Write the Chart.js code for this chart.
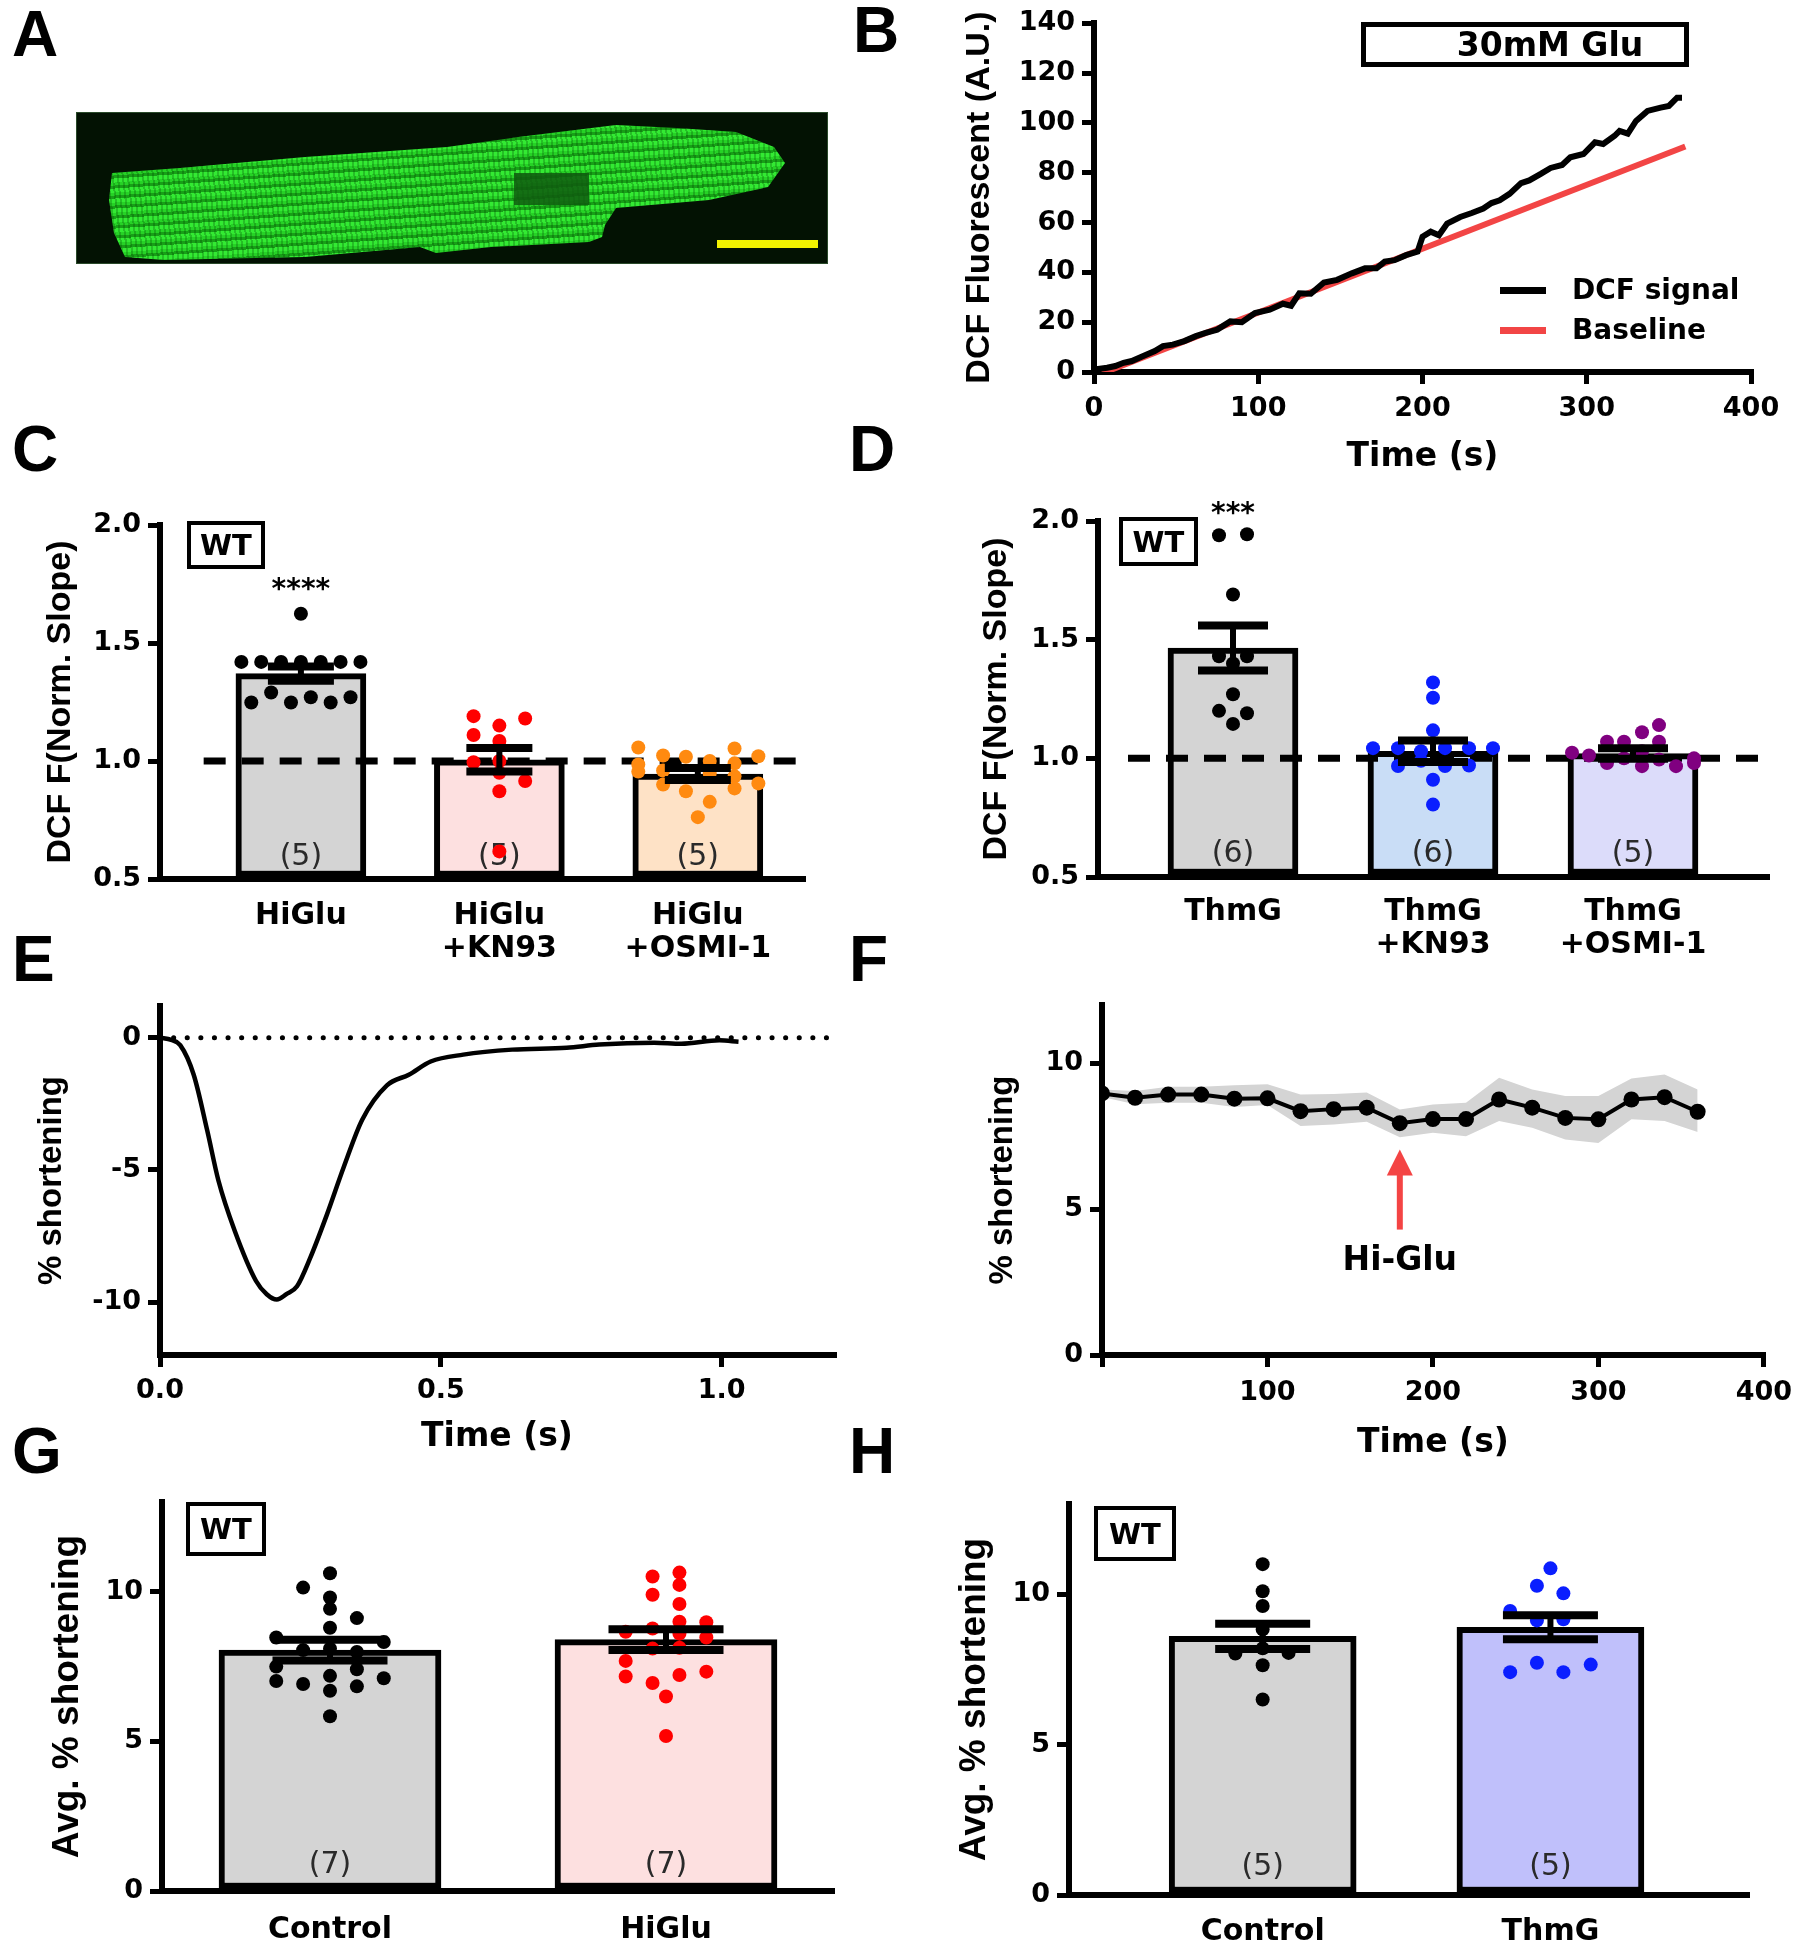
<!DOCTYPE html>
<html>
<head>
<meta charset="utf-8">
<script src="https://cdn.jsdelivr.net/npm/chart.js@4.4.1/dist/chart.umd.min.js"></script>
<style>
  body { margin: 0; background: #fff; width: 1803px; height: 1950px; position: relative; overflow: hidden;
         font-family: "DejaVu Sans", sans-serif; }
  canvas { position: absolute; }
  .lt { position: absolute; font-family: "Liberation Sans", Arial, sans-serif; font-weight: bold; font-size: 64px; line-height: 64px; }
  .wt { position: absolute; border: 4px solid #000; box-sizing: border-box; font-weight: bold; font-size: 29px;
        display: flex; align-items: center; justify-content: center; }
  .leg { position: absolute; font-weight: bold; font-size: 28px; line-height: 32px; }
  .sw { position: absolute; width: 46px; height: 7px; }
</style>
</head>
<body>

<!-- panel letters -->
<div class="lt" style="left:12px;top:2px">A</div>
<div class="lt" style="left:853px;top:-2px">B</div>
<div class="lt" style="left:12px;top:417px">C</div>
<div class="lt" style="left:849px;top:417px">D</div>
<div class="lt" style="left:12px;top:927px">E</div>
<div class="lt" style="left:849px;top:927px">F</div>
<div class="lt" style="left:12px;top:1419px">G</div>
<div class="lt" style="left:849px;top:1419px">H</div>

<!-- A : micrograph -->
<div style="position:absolute;left:77px;top:113px;width:750px;height:150px;background:#031203;overflow:hidden;box-shadow:0 0 0 1px #2a4a2a">
  <div style="position:absolute;left:0;top:0;width:750px;height:150px;
    clip-path:polygon(35px 60px,103px 55px,228px 44px,370px 34px,441px 24px,539px 12px,600px 15px,659px 19px,697px 34px,708px 50px,691px 74px,632px 87px,539px 95px,528px 112px,525px 124px,512px 129px,414px 134px,359px 140px,343px 134px,228px 144px,87px 147px,48px 144px,37px 120px,32px 87px);
    background:
      repeating-linear-gradient(83deg,rgba(0,60,0,.25) 0 2px,rgba(0,0,0,0) 2px 5px),
      repeating-linear-gradient(-4deg,#33ea33 0 4px,#17a017 4px 7px,#26d226 7px 10px)"></div>
  <div style="position:absolute;left:437px;top:60px;width:75px;height:32px;background:#0f5a0f;opacity:.85"></div>
  <div style="position:absolute;left:640px;top:127px;width:101px;height:8px;background:#f2f200"></div>
</div>

<!-- B -->
<canvas id="cB" width="863" height="480" style="left:940px;top:0px"></canvas>
<div style="position:absolute;left:1361px;top:22px;width:328px;height:45px;border:5px solid #000;box-sizing:border-box;
     font-weight:bold;font-size:33px;display:flex;align-items:center;justify-content:center;padding-left:50px">30mM Glu</div>
<div id="legB"></div>

<!-- C..H -->
<canvas id="cC" width="850" height="560" style="left:0px;top:420px"></canvas>
<canvas id="cD" width="953" height="560" style="left:850px;top:420px"></canvas>
<canvas id="cE" width="850" height="510" style="left:0px;top:960px"></canvas>
<canvas id="cF" width="953" height="510" style="left:850px;top:960px"></canvas>
<canvas id="cG" width="850" height="510" style="left:0px;top:1440px"></canvas>
<canvas id="cH" width="953" height="510" style="left:850px;top:1440px"></canvas>

<div class="wt" style="left:187px;top:521px;width:78px;height:48px">WT</div>
<div class="wt" style="left:1119px;top:517px;width:79px;height:49px">WT</div>
<div class="wt" style="left:186px;top:1502px;width:80px;height:54px">WT</div>
<div class="wt" style="left:1094px;top:1506px;width:82px;height:55px">WT</div>

<script>
// ---------------- data ----------------
// B : DCF fluorescence trace
const bTime   = [0,8,13,18,23,30,37,42,48,55,62,68,75,83,90,98,107,115,120,125,132,140,148,157,165,172,177,183,190,197,200,205,210,215,223,230,237,242,247,253,260,265,272,278,285,290,298,305,310,317,320,325,330,337,345,350,355,358];
const bSignal = [1,1.7,2.4,3.7,4.4,6.4,8.4,10.4,11,12.4,14.4,15.7,17,20.3,20,23.7,25,27.4,26.6,31.6,31.4,35.9,37,39.6,41.6,41.6,44.3,44.9,46.9,48.3,54.3,56.3,54.9,59.6,62.2,63.8,65.6,67.8,68.9,71.5,75.8,76.9,79.5,81.9,83.1,86.2,87.5,92.2,91.5,94.8,96.8,95.7,100.8,104.8,106.1,106.8,110.1,110.1];
const bBaseTime = [5, 360];
const bBaseVal  = [-0.5, 90.5];
const bNames  = ['DCF signal', 'Baseline'];
const bColors = ['#000000', '#f24545'];

// C : HiGlu groups
const cCats  = [['HiGlu'], ['HiGlu', '+KN93'], ['HiGlu', '+OSMI-1']];
const cMean  = [1.37, 1.005, 0.945];
const cSem   = [0.03, 0.05, 0.025];
const cN     = ['(5)', '(5)', '(5)'];
const cStars = ['****', '', ''];
const cStarY = 1.72;
const cHiVal = [1.624,1.42,1.42,1.42,1.42,1.42,1.42,1.42,1.248,1.29,1.248,1.27,1.248,1.27];
const cHiJit = [0,-0.30,-0.20,-0.10,0,0.10,0.20,0.30,-0.25,-0.15,-0.05,0.05,0.15,0.25];
const cKnVal = [1.19,1.18,1.15,1.11,1.085,0.995,1.0,0.95,0.915,0.872,0.617];
const cKnJit = [-0.13,0.13,0,-0.13,0,-0.13,0,0,0.13,0,0];
const cOsVal = [1.057,1.023,1.018,1.0,1.053,1.02,0.985,0.955,0.96,0.947,0.99,0.935,0.90,0.872,0.827,0.884,0.905,0.762];
const cOsJit = [-0.30,-0.175,-0.06,0.06,0.185,0.305,-0.30,-0.30,-0.175,0.06,0.185,0.185,-0.175,-0.06,0.06,0.185,0.305,0];

// D : ThmG groups
const dCats  = [['ThmG'], ['ThmG', '+KN93'], ['ThmG', '+OSMI-1']];
const dMean  = [1.465, 1.03, 1.02];
const dSem   = [0.095, 0.045, 0.022];
const dN     = ['(6)', '(6)', '(5)'];
const dStars = ['***', '', ''];
const dStarY = 2.025;
const dThVal = [1.94,1.944,1.69,1.43,1.43,1.40,1.27,1.20,1.19,1.145];
const dThJit = [-0.07,0.07,0,-0.07,0.07,0,0,-0.07,0.07,0];
const dKnVal = [1.32,1.255,1.118,1.043,1.043,1.03,1.043,1.043,1.043,0.968,0.99,0.968,0.97,0.91,0.805];
const dKnJit = [0,0,0,-0.30,-0.175,-0.06,0.06,0.18,0.30,-0.175,-0.06,0.06,0.18,0,0];
const dOsVal = [1.14,1.11,1.07,1.07,1.07,1.024,1.012,0.98,1.0,0.967,0.995,0.967,0.98,1.03,1.0];
const dOsJit = [0.13,0.045,-0.13,-0.045,0.13,-0.305,-0.22,-0.13,-0.045,0.045,0.13,0.215,0.305,0.045,0.305];

// E : single twitch
const eTime  = [0,0.02,0.036,0.06,0.084,0.104,0.133,0.171,0.19,0.208,0.225,0.244,0.268,0.297,0.327,0.36,0.404,0.443,0.482,0.54,0.627,0.724,0.782,0.88,0.928,0.996,1.03];
const eShort = [0,-0.08,-0.28,-1.4,-3.5,-5.4,-7.3,-9.2,-9.7,-9.9,-9.7,-9.4,-8.3,-6.7,-4.9,-3.1,-1.8,-1.4,-0.9,-0.64,-0.45,-0.38,-0.26,-0.19,-0.23,-0.1,-0.15];

// F : shortening over time
const fTime  = [0,20,40,60,80,100,120,140,160,180,200,220,240,260,280,300,320,340,360];
const fMean  = [8.97,8.82,8.93,8.93,8.79,8.80,8.36,8.43,8.48,7.95,8.09,8.09,8.76,8.48,8.13,8.08,8.76,8.84,8.34];
const fUpper = [9.1,9.05,9.2,9.2,9.25,9.28,8.93,8.95,9.0,8.42,8.59,8.65,9.51,9.1,8.88,8.88,9.48,9.62,9.1];
const fLower = [8.85,8.6,8.65,8.65,8.5,8.57,7.85,7.9,8.0,7.47,7.62,7.5,8.02,7.79,7.39,7.27,8.08,8.02,7.65];
const fArrow = {x: 180, from: 4.3, to: 7.05, label: 'Hi-Glu', labelY: 3.2};

// G : Control vs HiGlu
const gCats  = ['Control', 'HiGlu'];
const gMean  = [8.05, 8.4];
const gSem   = [0.35, 0.35];
const gN     = ['(7)', '(7)'];
const gCtVal = [10.62,10.14,9.81,9.43,9.12,8.8,8.47,8.32,8.05,7.99,7.5,7.41,7.19,7.02,7.11,6.92,6.84,6.69,5.84,8.1];
const gCtJit = [0,-0.08,0,0,0.08,0,-0.16,0.16,-0.08,0.08,-0.16,0.08,0,-0.16,0.16,-0.08,0.08,0,0,0];
const gHiVal = [10.51,10.64,10.23,9.9,9.59,9.0,8.98,8.77,8.66,8.6,8.47,8.1,8.13,7.69,7.17,7.22,7.33,6.95,6.5,5.18];
const gHiJit = [-0.04,0.04,0.04,-0.04,0.04,0.04,0.12,-0.04,-0.12,0.04,0.12,-0.04,0.04,-0.12,-0.12,0.04,0.12,-0.04,0,0];

// H : Control vs ThmG
const hCats  = ['Control', 'ThmG'];
const hMean  = [8.6, 8.9];
const hSem   = [0.42, 0.4];
const hN     = ['(5)', '(5)'];
const hCtVal = [11.0,10.1,9.61,8.83,8.03,8.05,8.2,7.64,6.5];
const hCtJit = [0,0,0,0,-0.095,0.09,0,0,0];
const hThVal = [10.86,10.28,10.03,9.44,9.13,9.17,7.41,7.72,7.41,7.66];
const hThJit = [0,-0.047,0.045,-0.14,-0.047,0.045,-0.14,-0.047,0.045,0.14];

// ---------------- helpers ----------------
const FONT = '"DejaVu Sans", sans-serif';

// vertical titles: narrow face if it is there, otherwise plain Liberation a bit smaller
function hasFont(name) {
    const c = document.createElement('canvas').getContext('2d');
    c.font = '40px monospace';
    const w0 = c.measureText('abcdefghij WMil').width;
    c.font = '40px "' + name + '", monospace';
    return c.measureText('abcdefghij WMil').width !== w0;
}
const NARROW = hasFont('Liberation Sans Narrow');
const VFONT = NARROW ? '"Liberation Sans Narrow", "Liberation Sans", sans-serif' : '"Liberation Sans", Arial, sans-serif';
const VK = NARROW ? 1 : 0.82;

Chart.defaults.font.family = FONT;
Chart.defaults.font.weight = 'bold';
Chart.defaults.color = '#000';
Chart.defaults.animation = false;
Chart.defaults.plugins.legend.display = false;
Chart.defaults.plugins.tooltip.enabled = false;

const pts = (xs, ys) => xs.map((x, i) => ({x: x, y: ys[i]}));
const jit = (cat, vals, offs) => vals.map((v, i) => ({x: cat + offs[i], y: v}));

// error bars, n labels, stars, arrow
const figExtras = {
    id: 'figExtras',
    afterDatasetDraw(chart, args, o) {
        if (args.meta.type !== 'bar' || !o.nLabels) return;
        const {ctx, scales: {x, y}} = chart;
        ctx.save();
        ctx.font = 'normal 30px ' + FONT;
        ctx.fillStyle = '#2a2a2a';
        ctx.textAlign = 'center';
        ctx.textBaseline = 'middle';
        o.nLabels.forEach((t, i) => ctx.fillText(t, x.getPixelForValue(i + 1), y.bottom - o.nLift));
        ctx.restore();
    },
    afterDatasetsDraw(chart, args, o) {
        const {ctx, scales: {x, y}} = chart;
        ctx.save();
        ctx.strokeStyle = '#000';
        (o.means || []).forEach((m, i) => {
            const px = x.getPixelForValue(i + 1);
            const hi = y.getPixelForValue(m + o.sems[i]);
            const lo = y.getPixelForValue(m - o.sems[i]);
            const hw = o.capW / 2;
            ctx.lineWidth = 6;
            ctx.beginPath(); ctx.moveTo(px, hi); ctx.lineTo(px, lo); ctx.stroke();
            ctx.lineWidth = 8;
            ctx.beginPath();
            ctx.moveTo(px - hw, hi); ctx.lineTo(px + hw, hi);
            ctx.moveTo(px - hw, lo); ctx.lineTo(px + hw, lo);
            ctx.stroke();
        });
        if (o.stars) {
            ctx.font = 'bold 28px ' + FONT;
            ctx.fillStyle = '#000';
            ctx.textAlign = 'center';
            ctx.textBaseline = 'middle';
            o.stars.forEach((s, i) => { if (s) ctx.fillText(s, x.getPixelForValue(i + 1), y.getPixelForValue(o.starY)); });
        }
        if (o.arrow) {
            const a = o.arrow;
            const px = x.getPixelForValue(a.x);
            const y0 = y.getPixelForValue(a.from), y1 = y.getPixelForValue(a.to);
            ctx.strokeStyle = ctx.fillStyle = '#f44444';
            ctx.lineWidth = 6;
            ctx.beginPath(); ctx.moveTo(px, y0); ctx.lineTo(px, y1 + 22); ctx.stroke();
            ctx.beginPath(); ctx.moveTo(px, y1); ctx.lineTo(px - 13, y1 + 26); ctx.lineTo(px + 13, y1 + 26); ctx.closePath(); ctx.fill();
            ctx.fillStyle = '#000';
            ctx.font = 'bold 33px ' + FONT;
            ctx.textAlign = 'center';
            ctx.textBaseline = 'middle';
            ctx.fillText(a.label, px, y.getPixelForValue(a.labelY));
        }
        ctx.restore();
    }
};

// o.tc = centre of the title, measured from the canvas' left edge
function yAxis(o) {
    const ts = Math.round(o.tsize * VK);
    return {
        type: 'linear', min: o.min, max: o.max,
        afterBuildTicks: s => { s.ticks = o.ticks.map(v => ({value: v})); },
        border: {display: true, width: 6, color: '#000'},
        grid: {drawOnChartArea: false, drawTicks: true, tickLength: 12, lineWidth: 5, color: '#000'},
        ticks: {font: {size: 27, weight: 'bold'}, padding: 7, color: '#000', callback: o.fmt || (v => v)},
        title: {display: true, text: o.title, color: '#000',
                font: {family: VFONT, size: ts, weight: 'bold', lineHeight: 1.2},
                padding: {top: o.tc - ts * 0.6, bottom: 0}}
    };
}

function xAxis(o) {
    return {
        type: 'linear', min: o.min, max: o.max, offset: false,
        afterBuildTicks: s => { s.ticks = o.ticks.map(v => ({value: v})); },
        border: {display: true, width: 6, color: '#000'},
        grid: o.marks
            ? {drawOnChartArea: false, drawTicks: true, tickLength: 12, lineWidth: 5, color: '#000', offset: false}
            : {display: false, drawTicks: false, offset: false},
        ticks: {font: {size: o.fsize || 27, weight: 'bold', lineHeight: 1.1}, padding: o.pad, color: '#000',
                maxRotation: 0, autoSkip: false, callback: o.fmt || (v => v)},
        title: o.title
            ? {display: true, text: o.title, color: '#000', font: {size: 33, weight: 'bold', lineHeight: 1.2},
               padding: {top: 0, bottom: o.tb - 33 * 0.6}}
            : {display: false}
    };
}

function panel(id, area, datasets, xs, ys, extras) {
    const cv = document.getElementById(id);
    const left = parseFloat(cv.style.left), top = parseFloat(cv.style.top);
    xs.afterFit = s => { s.height = top + cv.height - area.b; };
    ys.afterFit = s => { s.width = area.l - left; };
    return new Chart(cv, {
        type: 'bar',
        data: {datasets: datasets},
        options: {
            responsive: false,
            layout: {padding: {top: area.t - top, right: left + cv.width - area.r, left: 0, bottom: 0}},
            scales: {x: xs, y: ys},
            plugins: {figExtras: extras || {}}
        },
        plugins: [figExtras]
    });
}

function barSet(means, fills, base, thick) {
    return {
        type: 'bar', order: 5, data: means.map((m, i) => ({x: i + 1, y: m})), base: base,
        backgroundColor: fills, borderColor: '#000', borderWidth: 6, borderSkipped: false, barThickness: thick
    };
}
function dotSet(data, color, r) {
    return {type: 'scatter', order: 1, data: data, backgroundColor: color, borderWidth: 0, pointRadius: r || 7};
}
function refLine(from, to, yv) {
    return {type: 'line', order: 3, data: [{x: from, y: yv}, {x: to, y: yv}], borderColor: '#000',
            borderWidth: 7, borderDash: [22, 16], pointRadius: 0, fill: false};
}

// ---------------- B ----------------
panel('cB', {l: 1094, t: 22, r: 1751, b: 372}, [
    {type: 'line', label: bNames[0], data: pts(bTime, bSignal), borderColor: bColors[0], borderWidth: 6,
     pointRadius: 0, tension: 0, order: 1},
    {type: 'line', label: bNames[1], data: pts(bBaseTime, bBaseVal), borderColor: bColors[1], borderWidth: 6,
     pointRadius: 0, order: 2}
], xAxis({min: 0, max: 400, ticks: [0, 100, 200, 300, 400], marks: true, pad: 10, title: 'Time (s)', tb: 23}),
   yAxis({min: 0, max: 140, ticks: [0, 20, 40, 60, 80, 100, 120, 140], title: 'DCF Fluorescent (A.U.)', tsize: 41, tc: 40}));

// legend for B built from the series names
const legB = document.getElementById('legB');
bNames.forEach((name, i) => {
    const yc = 290 + i * 40;
    legB.insertAdjacentHTML('beforeend',
        '<div class="sw" style="left:1500px;top:' + (yc - 3) + 'px;background:' + bColors[i] + '"></div>' +
        '<div class="leg" style="left:1572px;top:' + (yc - 16) + 'px">' + name + '</div>');
});

// ---------------- C ----------------
panel('cC', {l: 160, t: 525, r: 805, b: 879}, [
    barSet(cMean, ['#d4d4d4', '#fde0e0', '#fee2c6'], 0.5, 130),
    refLine(0.51, 3.54, 1.0),
    dotSet(jit(1, cHiVal, cHiJit), '#000000'),
    dotSet(jit(2, cKnVal, cKnJit), '#ff0000'),
    dotSet(jit(3, cOsVal, cOsJit), '#ff8a10')
], xAxis({min: 0.29, max: 3.54, ticks: [1, 2, 3], pad: 21, fsize: 30, fmt: v => cCats[v - 1]}),
   yAxis({min: 0.5, max: 2.0, ticks: [0.5, 1.0, 1.5, 2.0], fmt: v => v.toFixed(1), title: 'DCF F(Norm. Slope)', tsize: 41, tc: 61}),
   {nLabels: cN, nLift: 22, means: cMean, sems: cSem, capW: 66, stars: cStars, starY: cStarY});

// ---------------- D ----------------
panel('cD', {l: 1098, t: 521, r: 1769, b: 877}, [
    barSet(dMean, ['#d4d4d4', '#c9ddf6', '#dcdcfa'], 0.5, 130),
    refLine(0.475, 3.68, 1.0),
    dotSet(jit(1, dThVal, dThJit), '#000000'),
    dotSet(jit(2, dKnVal, dKnJit), '#0a1eff'),
    dotSet(jit(3, dOsVal, dOsJit), '#800080')
], xAxis({min: 0.325, max: 3.68, ticks: [1, 2, 3], pad: 19, fsize: 30, fmt: v => dCats[v - 1]}),
   yAxis({min: 0.5, max: 2.0, ticks: [0.5, 1.0, 1.5, 2.0], fmt: v => v.toFixed(1), title: 'DCF F(Norm. Slope)', tsize: 41, tc: 147}),
   {nLabels: dN, nLift: 23, means: dMean, sems: dSem, capW: 70, stars: dStars, starY: dStarY});

// ---------------- E ----------------
panel('cE', {l: 160, t: 1006, r: 834, b: 1355}, [
    {type: 'line', data: pts(eTime, eShort), borderColor: '#000', borderWidth: 4.5, pointRadius: 0,
     cubicInterpolationMode: 'monotone', order: 1},
    {type: 'line', data: [{x: 0, y: 0}, {x: 1.2, y: 0}], borderColor: '#000', borderWidth: 5,
     borderDash: [0.1, 13.5], borderCapStyle: 'round', pointRadius: 0, order: 2}
], xAxis({min: 0, max: 1.2, ticks: [0, 0.5, 1.0], marks: true, pad: 9, fmt: v => v.toFixed(1), title: 'Time (s)', tb: 33}),
   yAxis({min: -12, max: 1.2, ticks: [-10, -5, 0], title: '% shortening', tsize: 40, tc: 52}));

// ---------------- F ----------------
panel('cF', {l: 1102, t: 1005, r: 1771, b: 1355}, [
    {type: 'line', data: pts(fTime, fMean), borderColor: '#000', borderWidth: 4, pointRadius: 8,
     pointBackgroundColor: '#000', pointBorderWidth: 0, order: 1},
    {type: 'line', data: pts(fTime, fUpper), borderWidth: 0, pointRadius: 0, fill: '+1',
     backgroundColor: '#d4d4d4', order: 3},
    {type: 'line', data: pts(fTime, fLower), borderWidth: 0, pointRadius: 0, fill: false, order: 3}
], xAxis({min: 0, max: 400, ticks: [0, 100, 200, 300, 400], marks: true, pad: 11, fmt: v => v === 0 ? '' : v, title: 'Time (s)', tb: 27}),
   yAxis({min: 0, max: 12, ticks: [0, 5, 10], title: '% shortening', tsize: 40, tc: 153}),
   {arrow: fArrow});

// ---------------- G ----------------
panel('cG', {l: 162, t: 1502, r: 834, b: 1891}, [
    barSet(gMean, ['#d4d4d4', '#fde0e0'], 0, 222),
    dotSet(jit(1, gCtVal, gCtJit), '#000000'),
    dotSet(jit(2, gHiVal, gHiJit), '#ff0000')
], xAxis({min: 0.5, max: 2.5, ticks: [1, 2], pad: 23, fsize: 30, fmt: v => gCats[v - 1]}),
   yAxis({min: 0, max: 13, ticks: [0, 5, 10], title: 'Avg. % shortening', tsize: 45, tc: 68}),
   {nLabels: gN, nLift: 26, means: gMean, sems: gSem, capW: 115});

// ---------------- H ----------------
panel('cH', {l: 1069, t: 1504, r: 1749, b: 1895}, [
    barSet(hMean, ['#d4d4d4', '#c0c0fb'], 0, 187),
    dotSet(jit(1, hCtVal, hCtJit), '#000000'),
    dotSet(jit(2, hThVal, hThJit), '#0a1eff')
], xAxis({min: 0.327, max: 2.69, ticks: [1, 2], pad: 21, fsize: 30, fmt: v => hCats[v - 1]}),
   yAxis({min: 0, max: 13, ticks: [0, 5, 10], title: 'Avg. % shortening', tsize: 45, tc: 125}),
   {nLabels: hN, nLift: 28, means: hMean, sems: hSem, capW: 95});
</script>
</body>
</html>
